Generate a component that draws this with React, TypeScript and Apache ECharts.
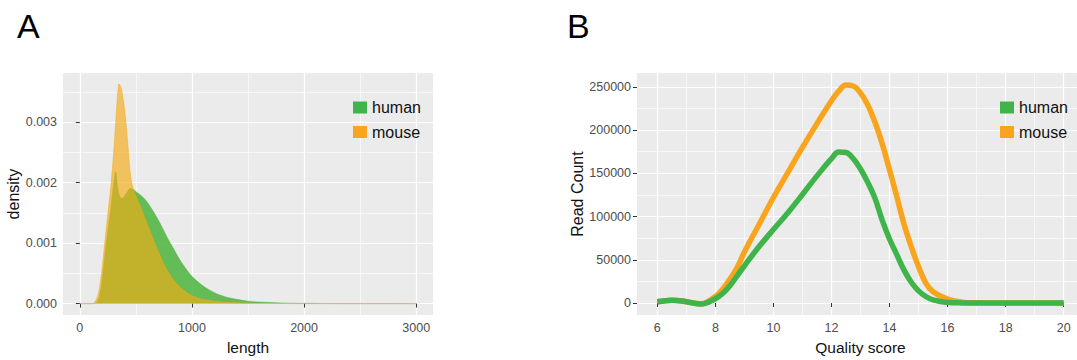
import React, { useEffect, useRef } from "react";
import * as echarts from "echarts";

// ---------- Panel A: read-length density ----------
const lengths = [0, 100, 125, 150, 175, 200, 225, 250, 275, 300, 320, 335, 350, 365, 380, 400, 425, 450, 475, 500, 550, 600, 650, 700, 750, 800, 850, 900, 1000, 1100, 1200, 1300, 1400, 1500, 1600, 1800, 2000, 2200, 2500, 3000];
const humanDensity = [0, 0, 0, 0.00002, 0.00012, 0.0004, 0.00082, 0.0012, 0.00155, 0.00195, 0.00218, 0.00195, 0.0018, 0.00175, 0.00174, 0.00178, 0.00185, 0.0019, 0.00189, 0.00185, 0.00178, 0.00168, 0.00154, 0.00138, 0.0012, 0.00102, 0.00086, 0.0007, 0.00045, 0.00029, 0.00018, 0.00011, 0.00007, 0.00004, 0.000025, 0.00001, 0.000004, 0.000001, 0, 0];
const mouseDensity = [0, 0, 0.00001, 0.00008, 0.00025, 0.0006, 0.00105, 0.00148, 0.0019, 0.00245, 0.00298, 0.0034, 0.00363, 0.00358, 0.00345, 0.0032, 0.0027, 0.00215, 0.0019, 0.00178, 0.00156, 0.00132, 0.00109, 0.00086, 0.00065, 0.00049, 0.00036, 0.00026, 0.00013, 0.00007, 0.00004, 0.000022, 0.000012, 0.000006, 0.000003, 0.000001, 0, 0, 0, 0];
const lengthTicks = [0, 1000, 2000, 3000];
const lengthMinor = [500, 1500, 2500];
const densityTicks = [0, 0.001, 0.002, 0.003];
const densityMinor = [0.0005, 0.0015, 0.0025, 0.0035];

// ---------- Panel B: quality score counts ----------
const qualityScores = [6, 6.5, 7, 7.5, 8, 8.25, 8.5, 8.75, 9, 9.5, 10, 10.5, 11, 11.5, 12, 12.25, 12.5, 12.75, 13, 13.25, 13.5, 13.75, 14, 14.25, 14.5, 14.75, 15, 15.25, 15.5, 16, 16.5, 17, 18, 19, 20];
const humanCounts = [1500, 3300, 1500, -1200, 5000, 11000, 20000, 31500, 43000, 65000, 85000, 104500, 125500, 147000, 167000, 174500, 174000, 167000, 155000, 139500, 121000, 95500, 74000, 56000, 38000, 24000, 14000, 7500, 3500, 600, 100, 0, 0, 0, 0];
const mouseCounts = [1500, 3300, 1500, -1000, 7500, 16000, 27500, 41000, 59000, 90500, 122000, 151000, 180000, 207500, 234000, 245000, 252000, 251000, 243000, 229000, 209000, 184000, 154000, 123000, 91000, 65000, 42000, 23000, 13000, 4400, 1000, 200, 0, 0, 0];
const qualityTicks = [6, 8, 10, 12, 14, 16, 18, 20];
const qualityMinor = [7, 9, 11, 13, 15, 17, 19];
const countTicks = [0, 50000, 100000, 150000, 200000, 250000];
const countMinor = [25000, 75000, 125000, 175000, 225000];

const seriesNames = ["human", "mouse"];
const GREEN = "#3fb44a";
const ORANGE = "#f8a41c";
const FONT = "'Liberation Sans', Arial, sans-serif";

function mainAxis(gridIndex: number, min: number, max: number, ticks: number[], fmt: (v: number) => string, name: string, nameGap: number, isY: boolean) {
  return {
    type: "value",
    gridIndex,
    min,
    max,
    position: isY ? "left" : "bottom",
    axisLine: { show: false },
    axisTick: { show: true, length: 4, customValues: ticks, lineStyle: { color: "#333", width: 1 } },
    axisLabel: { customValues: ticks, color: "#4d4d4d", fontSize: 12.5, margin: 6, fontFamily: FONT, formatter: fmt },
    splitLine: { show: true, lineStyle: { color: "#ffffff", width: 1.2 } },
    name,
    nameLocation: "middle",
    nameGap,
    nameTextStyle: { color: "#111", fontSize: isY ? 16 : 15.5, fontFamily: FONT },
  };
}

function minorAxis(gridIndex: number, min: number, max: number, ticks: number[], isY: boolean) {
  return {
    type: "value",
    gridIndex,
    min,
    max,
    position: isY ? "left" : "bottom",
    axisLine: { show: false },
    axisTick: { show: false, customValues: ticks },
    axisLabel: { show: false, customValues: ticks },
    splitLine: { show: true, lineStyle: { color: "#ffffff", width: 0.6 } },
  };
}

function legendAt(left: number) {
  return {
    left,
    top: 94.5,
    orient: "vertical",
    icon: "rect",
    itemWidth: 14,
    itemHeight: 12,
    itemGap: 8.5,
    selectedMode: false,
    textStyle: { fontSize: 16, color: "#111", fontFamily: FONT },
    data: [
      { name: seriesNames[0], itemStyle: { color: GREEN } },
      { name: seriesNames[1], itemStyle: { color: ORANGE } },
    ],
  };
}

export default function App() {
  const ref = useRef<HTMLDivElement>(null);

  useEffect(() => {
    if (!ref.current) return;
    const chart = echarts.init(ref.current, undefined, { renderer: "svg" });
    const fmtInt = (v: number) => String(v);
    const fmtDens = (v: number) => v.toFixed(3);

    chart.setOption({
      animation: false,
      backgroundColor: "#ffffff",
      grid: [
        { left: 63, top: 73, width: 370, height: 252, show: true, backgroundColor: "#ebebeb", borderWidth: 0 },
        { left: 637, top: 73, width: 447, height: 252, show: true, backgroundColor: "#ebebeb", borderWidth: 0 },
      ],
      xAxis: [
        minorAxis(0, -150, 3150, lengthMinor, false),
        mainAxis(0, -150, 3150, lengthTicks, fmtInt, "length", 14, false),
        minorAxis(1, 5.3, 20.7, qualityMinor, false),
        mainAxis(1, 5.3, 20.7, qualityTicks, fmtInt, "Quality score", 14, false),
      ],
      yAxis: [
        minorAxis(0, -0.00019, 0.00381, densityMinor, true),
        mainAxis(0, -0.00019, 0.00381, densityTicks, fmtDens, "density", 39, true),
        minorAxis(1, -14000, 266000, countMinor, true),
        mainAxis(1, -14000, 266000, countTicks, fmtInt, "Read Count", 51, true),
      ],
      legend: [legendAt(348), legendAt(995)],
      graphic: [
        { type: "text", x: 17, y: 26, style: { text: "A", fontSize: 34, fill: "#000", fontFamily: FONT, align: "left", verticalAlign: "middle" } },
        { type: "text", x: 567, y: 26, style: { text: "B", fontSize: 34, fill: "#000", fontFamily: FONT, align: "left", verticalAlign: "middle" } },
      ],
      series: [
        {
          name: seriesNames[0],
          type: "line",
          xAxisIndex: 1,
          yAxisIndex: 1,
          data: lengths.map((x, i) => [x, humanDensity[i]]),
          showSymbol: false,
          smooth: 0.3,
          itemStyle: { color: GREEN },
          lineStyle: { width: 0.6, color: "rgba(76,180,60,0.85)" },
          areaStyle: { color: "rgb(76,180,60)", opacity: 0.85 },
          z: 2,
        },
        {
          name: seriesNames[1],
          type: "line",
          xAxisIndex: 1,
          yAxisIndex: 1,
          data: lengths.map((x, i) => [x, mouseDensity[i]]),
          showSymbol: false,
          smooth: 0.3,
          itemStyle: { color: ORANGE },
          lineStyle: { width: 0.8, color: "rgba(245,170,20,0.65)" },
          areaStyle: { color: "rgb(245,170,20)", opacity: 0.65 },
          z: 3,
        },
        {
          name: seriesNames[1],
          type: "line",
          xAxisIndex: 3,
          yAxisIndex: 3,
          data: qualityScores.map((x, i) => [x, mouseCounts[i]]),
          showSymbol: false,
          smooth: 0.4,
          itemStyle: { color: ORANGE },
          lineStyle: { width: 5.5, color: ORANGE },
          z: 2,
        },
        {
          name: seriesNames[0],
          type: "line",
          xAxisIndex: 3,
          yAxisIndex: 3,
          data: qualityScores.map((x, i) => [x, humanCounts[i]]),
          showSymbol: false,
          smooth: 0.4,
          itemStyle: { color: GREEN },
          lineStyle: { width: 5.5, color: GREEN },
          z: 3,
        },
      ],
    });
    return () => chart.dispose();
  }, []);

  return (
    <div style={{ position: "fixed", left: 0, top: 0, width: 1077, height: 360, overflow: "hidden", background: "#fff" }}>
      <div ref={ref} style={{ width: 1100, height: 360 }} />
    </div>
  );
}
